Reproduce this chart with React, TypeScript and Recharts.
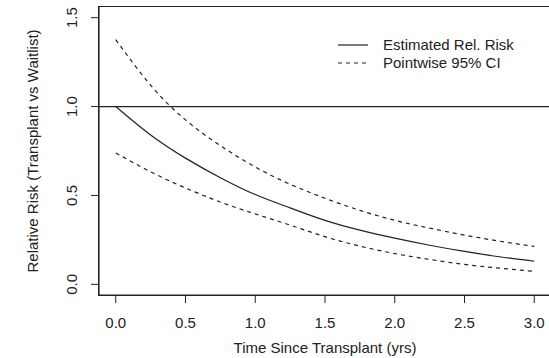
import React from 'react';
import {
  LineChart,
  Line,
  XAxis,
  YAxis,
  ReferenceLine,
} from 'recharts';

// values
const times = [0, 0.25, 0.5, 0.75, 1.0, 1.25, 1.5, 1.75, 2.0, 2.25, 2.5, 2.75, 3.0];
const estimate = [1.0, 0.84, 0.71, 0.6, 0.505, 0.43, 0.36, 0.305, 0.26, 0.22, 0.185, 0.155, 0.13];
const upperCI = [1.377, 1.12, 0.925, 0.78, 0.66, 0.563, 0.484, 0.416, 0.36, 0.316, 0.277, 0.243, 0.213];
const lowerCI = [0.739, 0.633, 0.542, 0.463, 0.396, 0.333, 0.268, 0.215, 0.173, 0.14, 0.112, 0.091, 0.073];

const xTicks = [0, 0.5, 1.0, 1.5, 2.0, 2.5, 3.0];
const yTicks = [0, 0.5, 1.0, 1.5];

const xTitle = 'Time Since Transplant (yrs)';
const yTitle = 'Relative Risk (Transplant vs Waitlist)';
const legendItems = [
  { label: 'Estimated Rel. Risk', dash: undefined },
  { label: 'Pointwise 95% CI', dash: '4 4' },
];

const data = times.map((t, i) => ({
  t,
  est: estimate[i],
  upper: upperCI[i],
  lower: lowerCI[i],
}));

const FONT = '"Liberation Sans", Arial, Helvetica, sans-serif';
const INK = '#222';
const X_DOMAIN = [-0.12, 3.12];
const Y_DOMAIN = [-0.06, 1.56];

const XTick: React.FC<any> = ({ x, y, payload }) => (
  <text x={x} y={y + 23} textAnchor="middle" fontSize={15} fontFamily={FONT} fill={INK}>
    {Number(payload.value).toFixed(1)}
  </text>
);

const YTick: React.FC<any> = ({ x, y, payload }) => {
  const bx = x - 12;
  return (
    <text
      x={bx}
      y={y}
      transform={`rotate(-90, ${bx}, ${y})`}
      textAnchor="middle"
      fontSize={15}
      fontFamily={FONT}
      fill={INK}
    >
      {Number(payload.value).toFixed(1)}
    </text>
  );
};

const XTitle: React.FC<any> = ({ viewBox }) => (
  <text
    x={viewBox.x + viewBox.width / 2}
    y={viewBox.y + 58}
    textAnchor="middle"
    fontSize={15}
    fontFamily={FONT}
    fill={INK}
  >
    {xTitle}
  </text>
);

const YTitle: React.FC<any> = ({ viewBox }) => {
  const cx = viewBox.x + 38;
  const cy = viewBox.y + viewBox.height / 2;
  return (
    <text
      x={cx}
      y={cy}
      transform={`rotate(-90, ${cx}, ${cy})`}
      textAnchor="middle"
      fontSize={15}
      fontFamily={FONT}
      fill={INK}
    >
      {yTitle}
    </text>
  );
};

const LegendBox = () => (
  <div
    style={{
      position: 'absolute',
      left: 338,
      top: 36,
      zIndex: 6,
      fontFamily: FONT,
      fontSize: 15,
      color: INK,
    }}
  >
    {legendItems.map((item, i) => (
      <div key={`leg-${i}`} style={{ display: 'flex', alignItems: 'center', height: 18 }}>
        <svg width={30} height={18} style={{ marginRight: 15 }}>
          <line x1={0} x2={30} y1={9} y2={9} stroke={INK} strokeWidth={1.2} strokeDasharray={item.dash} />
        </svg>
        <span style={{ lineHeight: '18px', whiteSpace: 'nowrap' }}>{item.label}</span>
      </div>
    ))}
  </div>
);

export default function App() {
  return (
    <div
      style={{
        position: 'absolute',
        left: 0,
        top: 0,
        width: 549,
        height: 358,
        overflow: 'hidden',
        background: '#fff',
      }}
    >
      <div style={{ position: 'absolute', left: 0, top: 0, zIndex: 1 }}>
        <LineChart
          width={560}
          height={358}
          data={data}
          margin={{ top: 7, right: 9, bottom: 0, left: 0 }}
        >
          <XAxis
            dataKey="t"
            type="number"
            domain={X_DOMAIN}
            ticks={xTicks}
            height={63}
            axisLine={{ stroke: INK, strokeWidth: 1.2 }}
            tickSize={8}
            tickLine={{ stroke: INK }}
            tick={<XTick />}
            label={<XTitle />}
          />
          <YAxis
            type="number"
            domain={Y_DOMAIN}
            ticks={yTicks}
            width={99}
            axisLine={{ stroke: INK, strokeWidth: 1.2 }}
            tickSize={8}
            tickLine={{ stroke: INK }}
            tick={<YTick />}
            label={<YTitle />}
          />
          <ReferenceLine y={1} stroke={INK} strokeWidth={1.2} />
          <Line
            dataKey="est"
            name="Estimated Rel. Risk"
            type="natural"
            stroke={INK}
            strokeWidth={1.2}
            dot={false}
            isAnimationActive={false}
          />
          <Line
            dataKey="upper"
            name="Pointwise 95% CI"
            type="natural"
            stroke={INK}
            strokeWidth={1.2}
            strokeDasharray="4 4"
            dot={false}
            isAnimationActive={false}
          />
          <Line
            dataKey="lower"
            name="Pointwise 95% CI"
            type="natural"
            stroke={INK}
            strokeWidth={1.2}
            strokeDasharray="4 4"
            dot={false}
            isAnimationActive={false}
          />
        </LineChart>
      </div>
      {/* plot frame (right edge falls outside the picture, as in the original) */}
      <div
        style={{
          position: 'absolute',
          left: 98,
          top: 6,
          width: 452,
          height: 288,
          border: `1px solid ${INK}`,
          pointerEvents: 'none',
          zIndex: 5,
        }}
      />
      <LegendBox />
    </div>
  );
}
